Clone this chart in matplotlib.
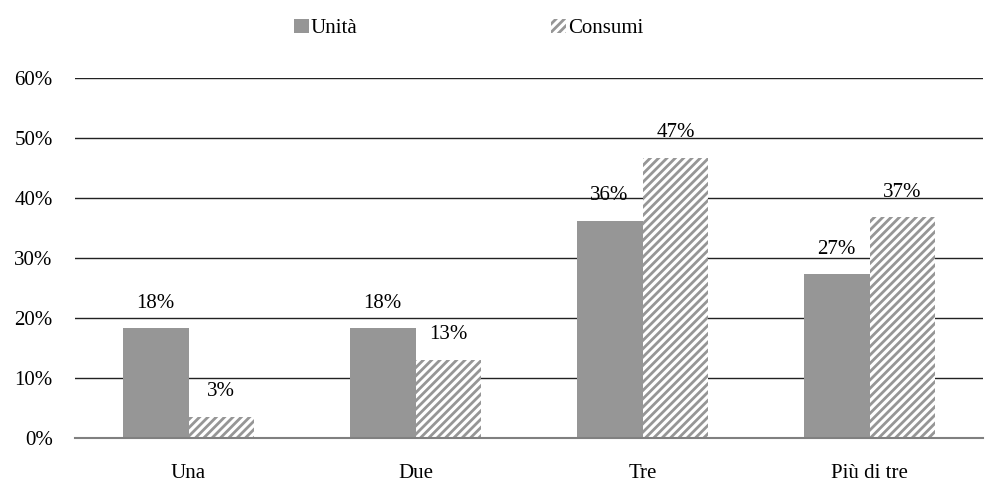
import numpy as np
import matplotlib
matplotlib.use("Agg")
import matplotlib.pyplot as plt
from matplotlib.patches import Patch

plt.rcParams['font.family'] = ['Liberation Serif', 'DejaVu Serif']
plt.rcParams['hatch.color'] = '#8c8c8c'
plt.rcParams['hatch.linewidth'] = 2.0

categorie = ["Una", "Due", "Tre", "Più di tre"]
unita = [18.3, 18.3, 36.2, 27.3]
consumi = [3.5, 13.0, 46.7, 36.8]
etichette_unita = ["18%", "18%", "36%", "27%"]
etichette_consumi = ["3%", "13%", "47%", "37%"]

fs = 15

fig = plt.figure(figsize=(9.93, 4.84), dpi=100)
ax = fig.add_axes([75/993, 1-438/484, 908/993, 360/484])

x = np.arange(len(categorie))
w = 0.29
b1 = ax.bar(x - w/2, unita, w, color='#969696', label='Unità')
b2 = ax.bar(x + w/2, consumi, w, color='white', edgecolor='#969696',
            hatch='////', linewidth=0, label='Consumi')

for r, t in zip(b1, etichette_unita):
    ax.text(r.get_x() + r.get_width()/2, r.get_height() + 2.6, t,
            ha='center', va='bottom', fontsize=fs)
for r, t in zip(b2, etichette_consumi):
    ax.text(r.get_x() + r.get_width()/2, r.get_height() + 2.6, t,
            ha='center', va='bottom', fontsize=fs)

ax.set_xlim(-0.5, 3.5)
ax.set_ylim(0, 60)
ax.set_yticks(range(0, 61, 10))
ax.set_yticklabels([f"{v}%" for v in range(0, 61, 10)], fontsize=fs)
ax.set_xticks(x)
ax.set_xticklabels(categorie, fontsize=fs)
ax.tick_params(axis='y', length=0, pad=16)
ax.tick_params(axis='x', length=0, pad=19)
ax.yaxis.grid(True, color='#222222', linewidth=1)
ax.set_axisbelow(True)
for s in ['top', 'right', 'left']:
    ax.spines[s].set_visible(False)
ax.spines['bottom'].set_color('#808080')
ax.spines['bottom'].set_linewidth(1.5)

handles = [Patch(facecolor='#969696', label='Unità'),
           Patch(facecolor='white', edgecolor='#969696', hatch='////', linewidth=0, label='Consumi')]
fig.legend(handles=handles, loc='upper center', bbox_to_anchor=(0.472, 1.0), ncol=2,
           frameon=False, fontsize=fs, handlelength=0.7, handleheight=0.7,
           handletextpad=0.1, columnspacing=9.3)

fig.savefig("out.png", dpi=100)
